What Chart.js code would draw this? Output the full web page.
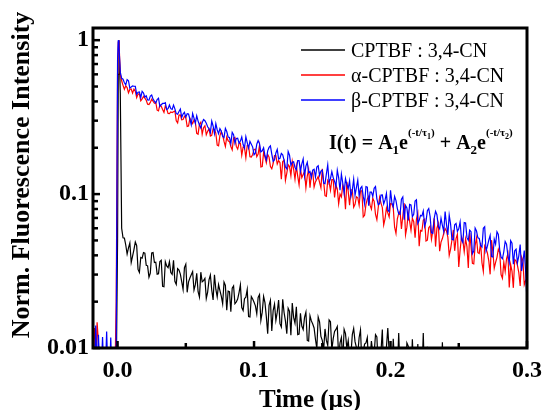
<!DOCTYPE html>
<html><head><meta charset="utf-8">
<script src="https://cdn.jsdelivr.net/npm/chart.js@4.4.1/dist/chart.umd.min.js"></script>
<style>html,body{margin:0;padding:0;background:#fff;}#wrap{width:544px;height:410px;}</style>
</head><body><div id="wrap"><canvas id="c" width="544" height="410"></canvas></div>
<script>
// ---- data ----
const timeUs = [
-0.018,-0.017,-0.016,-0.015,-0.014,-0.013,-0.012,-0.011,-0.010,-0.009,-0.008,-0.007,-0.006,-0.005,-0.004,-0.003,-0.002,
-0.001,0,0.0005,0.001,0.002,0.003,
.004,.005,.006,.007,.008,.009,.010,.011,.012,.013,
.014,.015,.016,.017,.018,.019,.020,.021,.022,.023,
.024,.025,.026,.027,.028,.029,.030,.031,.032,.033,
.034,.035,.036,.037,.038,.039,.040,.041,.042,.043,
.044,.045,.046,.047,.048,.049,.050,.051,.052,.053,
.054,.055,.056,.057,.058,.059,.060,.061,.062,.063,
.064,.065,.066,.067,.068,.069,.070,.071,.072,.073,
.074,.075,.076,.077,.078,.079,.080,.081,.082,.083,
.084,.085,.086,.087,.088,.089,.090,.091,.092,.093,
.094,.095,.096,.097,.098,.099,.100,.101,.102,.103,
.104,.105,.106,.107,.108,.109,.110,.111,.112,.113,
.114,.115,.116,.117,.118,.119,.120,.121,.122,.123,
.124,.125,.126,.127,.128,.129,.130,.131,.132,.133,
.134,.135,.136,.137,.138,.139,.140,.141,.142,.143,
.144,.145,.146,.147,.148,.149,.150,.151,.152,.153,
.154,.155,.156,.157,.158,.159,.160,.161,.162,.163,
.164,.165,.166,.167,.168,.169,.170,.171,.172,.173,
.174,.175,.176,.177,.178,.179,.180,.181,.182,.183,
.184,.185,.186,.187,.188,.189,.190,.191,.192,.193,
.194,.195,.196,.197,.198,.199,.200,.201,.202,.203,
.204,.205,.206,.207,.208,.209,.210,.211,.212,.213,
.214,.215,.216,.217,.218,.219,.220,.221,.222,.223,
.224,.225,.226,.227,.228,.229,.230,.231,.232,.233,
.234,.235,.236,.237,.238,.239,.240,.241,.242,.243,
.244,.245,.246,.247,.248,.249,.250,.251,.252,.253,
.254,.255,.256,.257,.258,.259,.260,.261,.262,.263,
.264,.265,.266,.267,.268,.269,.270,.271,.272,.273,
.274,.275,.276,.277,.278,.279,.280,.281,.282,.283,
.284,.285,.286,.287,.288,.289,.290,.291,.292,.293,
.294,.295,.296,.297,.298,.299,.300];

const seriesNames = ['CPTBF : 3,4-CN', 'α-CPTBF : 3,4-CN', 'β-CPTBF : 3,4-CN'];

const cptbf = [
0.005,0.005,0.005,0.005,0.005,0.005,0.005,0.005,0.005,0.005,0.005,0.005,0.005,0.005,0.005,0.005,0.005,
0.006,0.05,0.6,1.0,0.45,0.06,
.052,.0518,.0467,.0408,.0447,.0481,.0360,.0396,.0436,.0488,
.0463,.0324,.0310,.0387,.0383,.0417,.0413,.0345,.0342,.0288,
.0307,.0415,.0417,.0359,.0361,.0302,.0304,.0365,.0372,.0252,
.0250,.0363,.0341,.0333,.0364,.0309,.0301,.0371,.0271,.0259,
.0328,.0321,.0302,.0270,.0240,.0333,.0350,.0230,.0269,.0285,
.0299,.0313,.0238,.0258,.0306,.0232,.0214,.0311,.0269,.0274,
.0283,.0210,.0231,.0277,.0298,.0238,.0205,.0299,.0241,.0215,
.0258,.0236,.0217,.0194,.0268,.0255,.0176,.0234,.0232,.0172,
.0245,.0253,.0194,.0199,.0208,.0229,.0257,.0183,.0175,.0209,
.0214,.0240,.0160,.0159,.0216,.0208,.0198,.0188,.0167,.0213,
.0222,.0151,.0171,.0216,.0197,.0160,.0124,.0189,.0204,.0129,
.0175,.0193,.0151,.0171,.0205,.0144,.0137,.0207,.0170,.0150,
.0124,.0181,.0173,.0121,.0196,.0158,.0145,.0185,.0122,.0123,
.0168,.0139,.0132,.0158,.0171,.0112,.0111,.0162,.0150,.0143,
.0135,.0114,.0099,.0159,.0148,.0119,.0112,.00975,.0133,.0112,
.0104,.0152,.0148,.00972,.0115,.0128,.0132,.0138,.00872,.0108,
.0117,.00833,.0132,.0124,.00994,.0112,.00875,.00908,.0122,.0134,
.0110,.0101,.00912,.0117,.0131,.00796,.00945,.0106,.0108,.0117,
.00765,.00848,.0111,.00934,.00926,.0122,.0118,.00755,.00749,.00942,
.0132,.00669,.0085,.0101,.0135,.00945,.0082,.0072,.0115,.0079,
.0078,.0070,.0125,.0068,.0075,.0081,.0072,.0067,.0108,.0103,
.0070,.0064,.0114,.0070,.0068,.0063,.0106,.0062,.0066,.0066,
.0125,.0060,.0064,.0102,.0062,.0059,.0065,.0061,.0060,.0057,
.0061,.0058,.0058,.0056,.0109,.0060,.0057,.0054,.0059,.0055,
.0055,.0053,.0056,.0056,.0054,.0052,.0103,.0051,.0053,.0053,
.0052,.0050,.0050,.0049,.0051,.0051,.0049,.0048,.0050,.0049,
.0048,.0047,.0047,.0046,.0049,.0048,.0046,.0045,.0047,.0046,
.0045,.0044,.0046,.0045,.0044,.0043,.0045,.0044,.0043,.0042,
.0044,.0043,.0042,.0041,.0043,.0042,.0041,.0040,.0042,.0041,
.0040,.0039,.0041,.0040,.0039,.0039,.0040];

const alphaCptbf = [
0.0105,0.0135,0.0068,0.0147,0.0108,0.0066,0.0065,0.0064,0.0064,0.0063,0.0063,0.0063,0.0062,0.0062,0.0062,0.0062,0.0061,
0.020,0.60,0.97,1.0,0.60,0.545,
.509,.480,.505,.492,.455,.478,.482,.453,.481,.466,
.423,.446,.447,.404,.415,.431,.420,.407,.384,.382,
.394,.413,.401,.389,.394,.351,.347,.381,.372,.355,
.340,.374,.358,.334,.333,.342,.339,.343,.347,.299,
.290,.326,.327,.304,.305,.320,.314,.275,.277,.311,
.298,.287,.303,.292,.248,.245,.284,.293,.245,.270,
.278,.243,.256,.265,.238,.241,.265,.262,.249,.208,
.206,.240,.255,.242,.220,.204,.235,.222,.219,.204,
.194,.232,.234,.204,.196,.213,.214,.179,.202,.201,
.172,.207,.206,.175,.174,.181,.195,.196,.175,.182,
.207,.150,.151,.187,.174,.160,.181,.174,.151,.146,
.158,.178,.178,.157,.165,.160,.125,.163,.166,.123,
.137,.155,.151,.132,.163,.145,.125,.152,.131,.115,
.146,.128,.134,.140,.110,.131,.145,.110,.134,.140,
.111,.120,.125,.130,.119,.110,.146,.120,.0976,.0966,
.123,.119,.106,.124,.124,.0951,.114,.108,.0864,.100,
.0958,.114,.107,.0798,.120,.104,.0847,.106,.107,.0823,
.0859,.0961,.0947,.0848,.105,.105,.0710,.0728,.0857,.0929,
.0967,.0847,.0799,.0939,.0897,.0737,.0681,.0818,.0952,.0874,
.0817,.0630,.0692,.0813,.0755,.0710,.0869,.0863,.0813,.0609,
.0555,.0691,.0749,.0773,.0594,.0718,.0873,.0544,.0610,.0750,
.0664,.0582,.0696,.0662,.0521,.0687,.0750,.0458,.0581,.0576,
.0678,.0688,.0496,.0502,.0605,.0621,.0509,.0577,.0695,.0456,
.0601,.0644,.0426,.0488,.0514,.0555,.0597,.0576,.0525,.0400,
.0439,.0503,.0585,.0428,.0514,.0549,.0336,.0433,.0527,.0500,
.0422,.0511,.0456,.0331,.0559,.0456,.0355,.0352,.0465,.0520,
.0416,.0411,.0483,.0358,.0315,.0461,.0441,.0414,.0368,.0301,
.0502,.0420,.0330,.0360,.0388,.0439,.0418,.0300,.0284,.0362,
.0314,.0380,.0411,.0247,.0349,.0316,.0246,.0375,.0368,.0344,
.0309,.0253,.0390,.0369,.0258,.0275,.027];

const betaCptbf = [
0.0128,0.0070,0.0140,0.0072,0.0122,0.0068,0.0070,0.0118,0.0068,0.0066,0.0128,0.0065,0.0064,0.0117,0.0063,0.0062,0.0062,
0.0105,0.75,1.0,0.92,0.62,0.565,
.558,.529,.513,.555,.545,.487,.497,.504,.502,.501,
.445,.459,.461,.424,.465,.454,.427,.435,.409,.408,
.433,.440,.414,.402,.391,.411,.420,.371,.381,.388,
.388,.393,.354,.359,.379,.359,.355,.379,.358,.333,
.330,.344,.357,.315,.331,.340,.316,.333,.331,.307,
.282,.334,.312,.289,.323,.298,.281,.269,.291,.305,
.300,.289,.274,.266,.251,.298,.277,.247,.287,.262,
.247,.266,.256,.237,.233,.267,.255,.235,.233,.213,
.252,.243,.214,.230,.231,.214,.221,.235,.210,.199,
.236,.216,.199,.220,.211,.202,.180,.185,.211,.223,
.213,.188,.191,.200,.178,.167,.191,.201,.206,.182,
.163,.167,.185,.195,.169,.171,.184,.180,.166,.150,
.146,.189,.179,.154,.161,.162,.149,.144,.165,.165,
.140,.157,.169,.131,.152,.161,.138,.140,.128,.143,
.145,.129,.150,.153,.132,.141,.143,.118,.117,.135,
.155,.119,.126,.140,.128,.121,.112,.143,.128,.106,
.135,.118,.101,.126,.115,.109,.122,.0964,.106,.125,
.0983,.110,.123,.0978,.109,.112,.0970,.0866,.112,.111,
.0841,.103,.103,.0966,.109,.112,.0931,.0853,.0866,.0985,
.0987,.0863,.0917,.101,.0785,.0769,.106,.0880,.0825,.0966,
.0907,.0805,.0745,.0738,.0926,.0957,.0681,.0843,.0813,.0674,
.0857,.0851,.0714,.0738,.0900,.0918,.0645,.0675,.0727,.0721,
.0776,.0618,.0665,.0780,.0805,.0715,.0560,.0556,.0697,.0773,
.0735,.0618,.0595,.0697,.0627,.0573,.0769,.0637,.0543,.0730,
.0639,.0508,.0504,.0632,.0645,.0572,.0594,.0659,.0505,.0485,
.0653,.0649,.0521,.0501,.0583,.0570,.0409,.0426,.0601,.0577,
.0519,.0515,.0464,.0453,.0599,.0614,.0427,.0459,.0502,.0539,
.0393,.0390,.0509,.0473,.0569,.0547,.0433,.0389,.0380,.0422,
.0492,.0473,.0399,.0359,.0499,.0480,.0350,.0428,.0438,.0358,
.0397,.0470,.0317,.0364,.0430,.0314,.020];

const xTickValues = [0, 0.1, 0.2, 0.3];
const xMinorTickValues = [0.05, 0.15, 0.25];
const yTickValues = [0.01, 0.1, 1];
const yMinorTickValues = [0.02,0.03,0.04,0.05,0.06,0.07,0.08,0.09,0.2,0.3,0.4,0.5,0.6,0.7,0.8,0.9];
const xLabel = 'Time (µs)';
const yLabel = 'Norm. Fluorescence Intensity';

// ---- styling ----
const SERIF = "'Liberation Serif','Times New Roman',serif";
const colors = ['#000000', '#ff0000', '#0000ff'];
const seriesValues = [cptbf, alphaCptbf, betaCptbf];

const datasets = seriesValues.map((vals, i) => ({
  label: seriesNames[i],
  data: timeUs.map((t, j) => ({ x: t, y: vals[j] })),
  borderColor: colors[i],
  backgroundColor: colors[i],
  borderWidth: 1.2,
  pointRadius: 0,
  tension: 0,
  fill: false,
  order: 2 - i
}));

const decor = {
  id: 'decor',
  afterDraw(chart) {
    const { ctx, chartArea: a, scales: { x, y } } = chart;
    ctx.save();
    ctx.strokeStyle = '#000';
    ctx.lineCap = 'butt';
    ctx.lineWidth = 2.5;
    const yt = (v, len) => { const p = y.getPixelForValue(v); ctx.beginPath(); ctx.moveTo(a.left, p); ctx.lineTo(a.left + len, p); ctx.stroke(); };
    const xt = (v, len) => { const p = x.getPixelForValue(v); ctx.beginPath(); ctx.moveTo(p, a.bottom); ctx.lineTo(p, a.bottom - len); ctx.stroke(); };
    yTickValues.forEach(v => yt(v, 7));
    yMinorTickValues.forEach(v => yt(v, 5));
    xTickValues.forEach(v => xt(v, 7));
    xMinorTickValues.forEach(v => xt(v, 5));
    ctx.lineWidth = 3;
    ctx.strokeRect(a.left, a.top, a.right - a.left, a.bottom - a.top);

    // y axis title
    ctx.save();
    ctx.translate(22, 175);
    ctx.rotate(-Math.PI / 2);
    ctx.font = 'bold 26px ' + SERIF;
    ctx.fillStyle = '#000';
    ctx.textAlign = 'center';
    ctx.textBaseline = 'middle';
    ctx.fillText(yLabel, 0, 0);
    ctx.restore();

    // legend
    ctx.font = '20px ' + SERIF;
    ctx.textAlign = 'left';
    ctx.textBaseline = 'alphabetic';
    ctx.fillStyle = '#000';
    seriesNames.forEach((name, i) => {
      const ly = 50 + 25 * i;
      ctx.strokeStyle = colors[i];
      ctx.lineWidth = 1.5;
      ctx.beginPath(); ctx.moveTo(301, ly); ctx.lineTo(345, ly); ctx.stroke();
      ctx.fillText(name, 351, ly + 6.5);
    });

    // equation
    let ex = 329; const eb = 149;
    const seg = (txt, size, dy) => {
      ctx.font = 'bold ' + size + 'px ' + SERIF;
      ctx.fillText(txt, ex, eb + dy);
      ex += ctx.measureText(txt).width;
    };
    seg('I(t) = A', 20, 0); seg('1', 13, 4.5); seg('e', 20, 0);
    seg('(-t/τ', 11, -13); seg('1', 8, -10); seg(')', 11, -13);
    seg(' + A', 20, 0); seg('2', 13, 4.5); seg('e', 20, 0);
    seg('(-t/τ', 11, -13); seg('2', 8, -10); seg(')', 11, -13);
    ctx.restore();
  }
};

new Chart(document.getElementById('c'), {
  type: 'line',
  data: { datasets },
  options: {
    responsive: false,
    devicePixelRatio: 1,
    animation: false,
    layout: { padding: { left: 0, right: 17, top: 28, bottom: 0 } },
    plugins: { legend: { display: false }, tooltip: { enabled: false } },
    scales: {
      x: {
        type: 'linear', min: -0.018, max: 0.3,
        afterBuildTicks: s => { s.ticks = xTickValues.map(v => ({ value: v })); },
        afterFit: s => { s.height = 62; s.paddingLeft = 0; s.paddingRight = 0; },
        grid: { display: false, drawTicks: false },
        border: { display: false },
        ticks: { font: { family: SERIF, size: 24, weight: 'bold' }, color: '#000', padding: 8, maxRotation: 0, autoSkip: false,
                 callback: v => Number(v).toFixed(1) },
        title: { display: true, text: xLabel, font: { family: SERIF, size: 25, weight: 'bold' }, color: '#000', padding: { top: 0, bottom: -6 } }
      },
      y: {
        type: 'logarithmic', min: 0.01, max: 1.2,
        afterBuildTicks: s => { s.ticks = yTickValues.map(v => ({ value: v, major: true })); },
        afterFit: s => { s.width = 93; s.paddingTop = 0; s.paddingBottom = 0; },
        grid: { display: false, drawTicks: false },
        border: { display: false },
        ticks: { font: { family: SERIF, size: 24, weight: 'bold' }, color: '#000', padding: 4, autoSkip: false,
                 callback: v => String(v) },
        title: { display: false }
      }
    }
  },
  plugins: [decor]
});
</script></body></html>
